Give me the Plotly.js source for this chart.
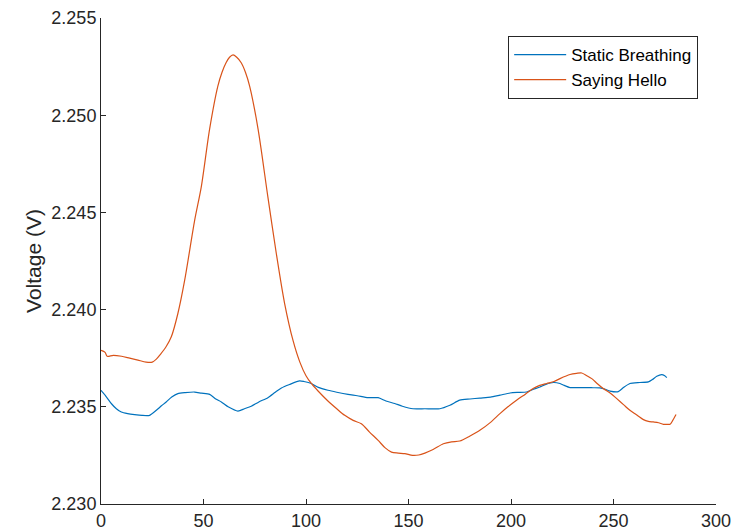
<!DOCTYPE html>
<html>
<head>
<meta charset="utf-8">
<script src="https://cdn.plot.ly/plotly-3.0.1.min.js"></script>
<style>html,body{margin:0;padding:0;background:#fff;}#chart{width:732px;height:532px;}</style>
</head>
<body>
<div id="chart"></div>
<script>
// Static Breathing
const breathX = [0,2,5,7.5,9.9,13,16.4,20,23.7,27,29.5,31.8,34.5,37.5,41,45.7,49,53,56,58.7,62,66.8,70,73.3,77,81.4,85,88,92,96.9,99,102.6,106,110.7,115,120.5,125,130.3,135.2,139,143.3,147,152.2,158,165.3,170.2,175,180,184.8,190,194.6,199.5,203,207.6,211,214.1,217,220.6,223.9,226,228.8,233,236.9,240,243.4,246,248.3,252.3,255,258,262.9,267,269,271.1,273.5,275,276];
const breathY = [2.23585,2.2356,2.23517,2.2349,2.23473,2.23465,2.2346,2.23456,2.23456,2.23482,2.23505,2.23525,2.2355,2.23568,2.23573,2.23576,2.2357,2.23564,2.2354,2.23525,2.235,2.23478,2.2349,2.23503,2.23525,2.23547,2.23575,2.23597,2.23615,2.23633,2.2363,2.2362,2.236,2.23585,2.23575,2.23564,2.23557,2.23547,2.23547,2.2353,2.23517,2.23503,2.2349,2.2349,2.2349,2.23508,2.23534,2.2354,2.23545,2.2355,2.2356,2.23571,2.23574,2.23576,2.2359,2.23602,2.23615,2.23625,2.2362,2.2361,2.23599,2.23599,2.23599,2.23598,2.23597,2.2359,2.23581,2.23578,2.236,2.2362,2.23625,2.23628,2.2364,2.23657,2.23666,2.2366,2.2365];

// Saying Hello
const helloX = [0,2,3,6,10,14,18,22,25,27,29,31.8,34.3,37.5,40.8,45.7,48.9,53,57,59,61,62.7,64.4,66.2,68.4,70.5,72.5,76.6,81.4,85.5,89.6,93.7,97,100,102.6,106,110.7,115,118.9,123,127,131,135.2,138.5,141.7,145,148.2,152,155,158,162,167,171,175,180,184.8,190,194.6,198.5,202.7,207,210.8,214,217.4,221,223.9,228.8,232,234.5,237,239.4,242,245,248.5,251.6,255,258,261,264.6,267,269.4,272,274.3,276,277.6,278.9,280.5];
const helloY = [2.2379,2.2378,2.2376,2.23765,2.2376,2.2375,2.2374,2.2373,2.2373,2.23745,2.2377,2.2381,2.2386,2.2398,2.2415,2.2446,2.2463,2.2493,2.2515,2.2522,2.2527,2.25298,2.2531,2.25298,2.2527,2.2522,2.2515,2.2493,2.2458,2.2429,2.2403,2.2384,2.2373,2.2366,2.2362,2.2358,2.2353,2.2349,2.23456,2.2343,2.23413,2.2337,2.23327,2.2329,2.23267,2.23262,2.23259,2.2325,2.23252,2.23262,2.2328,2.2331,2.2332,2.23324,2.2335,2.23379,2.2342,2.23465,2.235,2.23534,2.23565,2.23594,2.2361,2.2362,2.2363,2.23645,2.23666,2.23672,2.23674,2.2366,2.23645,2.2362,2.23594,2.2357,2.23542,2.2351,2.23482,2.2346,2.23434,2.23425,2.23422,2.23418,2.2341,2.2341,2.2341,2.2343,2.2346];

const xTicks = [0,50,100,150,200,250,300];
const yTicks = [2.230,2.235,2.240,2.245,2.250,2.255];
const seriesNames = ['Static Breathing','Saying Hello'];
const yTitle = 'Voltage (V)';

const axisColor = '#262626';
const fontFam = 'Liberation Sans, Arial, Helvetica, sans-serif';

const traces = [
  {x: breathX, y: breathY, name: seriesNames[0], type: 'scatter', mode: 'lines',
   line: {color: '#0072BD', width: 1.2, shape: 'spline', smoothing: 0.6}},
  {x: helloX, y: helloY, name: seriesNames[1], type: 'scatter', mode: 'lines',
   line: {color: '#D95319', width: 1.2, shape: 'spline', smoothing: 0.8}}
];

const layout = {
  width: 732, height: 532,
  margin: {l: 101, r: 16, t: 18, b: 28, pad: 0},
  paper_bgcolor: '#ffffff', plot_bgcolor: '#ffffff',
  font: {family: fontFam, color: axisColor},
  showlegend: true,
  legend: {
    x: 0.971, xanchor: 'right', y: 0.963, yanchor: 'top',
    bgcolor: '#ffffff', bordercolor: axisColor, borderwidth: 1,
    itemwidth: 52,
    font: {family: fontFam, size: 17, color: '#000000'}
  },
  xaxis: {
    range: [0, 300], tickvals: xTicks, ticktext: xTicks.map(String),
    showline: true, linecolor: axisColor, linewidth: 1, mirror: false,
    ticks: 'inside', ticklen: 5, tickcolor: axisColor, tickwidth: 1,
    showgrid: false, zeroline: false, automargin: false,
    tickfont: {family: fontFam, size: 18, color: axisColor}
  },
  yaxis: {
    range: [2.230, 2.255], tickvals: yTicks, ticktext: yTicks.map(v => v.toFixed(3)),
    showline: true, linecolor: axisColor, linewidth: 1, mirror: false,
    ticks: 'inside', ticklen: 5, tickcolor: axisColor, tickwidth: 1,
    showgrid: false, zeroline: false, automargin: false,
    tickfont: {family: fontFam, size: 18, color: axisColor},
    title: {text: yTitle, font: {family: fontFam, size: 21, color: axisColor}, standoff: 4}
  }
};

Plotly.newPlot('chart', traces, layout, {displayModeBar: false, staticPlot: true});
</script>
</body>
</html>
